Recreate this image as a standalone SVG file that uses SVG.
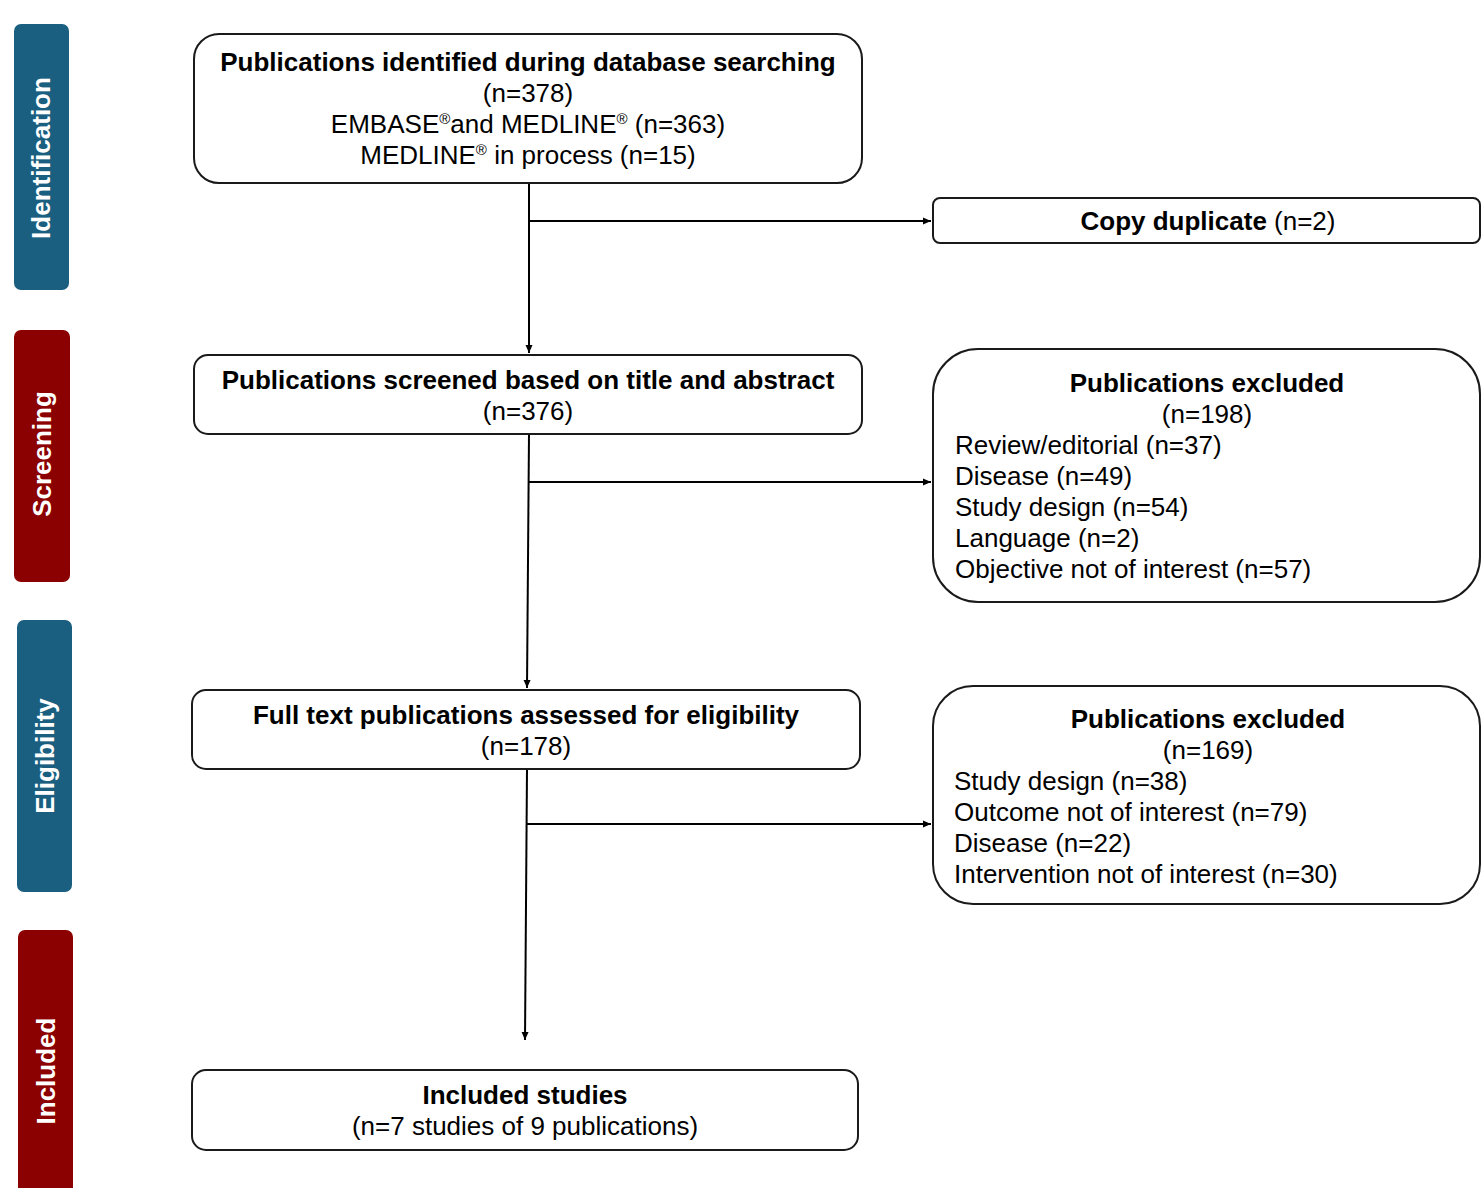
<svg xmlns="http://www.w3.org/2000/svg" width="1482" height="1188" viewBox="0 0 1482 1188">
<defs>
<style>
.box{fill:#fff;stroke:#1a1a1a;stroke-width:2}
.bar-b{fill:#1a5e80}
.bar-r{fill:#8b0000}
.lbl{font-family:"Liberation Sans",Arial,sans-serif;font-size:26px;font-weight:bold;fill:#fff;text-anchor:middle}
.t{font-family:"Liberation Sans",Arial,sans-serif;font-size:26px;fill:#000}
.b{font-weight:bold}
.c{text-anchor:middle}
.conn{fill:none;stroke:#000;stroke-width:2}
</style>
<marker id="arr" markerUnits="userSpaceOnUse" markerWidth="9" markerHeight="8" refX="8" refY="4" orient="auto">
<path d="M0,0.5 L8,4 L0,7.5 z" fill="#000"/>
</marker>
</defs>
<rect width="1482" height="1188" fill="#fff"/>

<g id="phase-identification">
<rect class="bar-b" x="14" y="24" width="55" height="266" rx="7"/>
<text class="lbl" transform="translate(50,158) rotate(-90)">Identification</text>
</g>
<g id="phase-screening">
<rect class="bar-r" x="14" y="330" width="56" height="252" rx="7"/>
<text class="lbl" transform="translate(51,454) rotate(-90)">Screening</text>
</g>
<g id="phase-eligibility">
<rect class="bar-b" x="17" y="620" width="55" height="272" rx="7"/>
<text class="lbl" transform="translate(54,756) rotate(-90)">Eligibility</text>
</g>
<g id="phase-included">
<rect class="bar-r" x="18" y="930" width="55" height="270" rx="7"/>
<text class="lbl" transform="translate(55,1071) rotate(-90)">Included</text>
</g>

<g id="connectors">
<path class="conn" d="M529,183 L529,353" marker-end="url(#arr)"/>
<path class="conn" d="M529,221 L931,221" marker-end="url(#arr)"/>
<path class="conn" d="M529,434 L527,688" marker-end="url(#arr)"/>
<path class="conn" d="M529,482 L931,482" marker-end="url(#arr)"/>
<path class="conn" d="M527,769 L525,1040" marker-end="url(#arr)"/>
<path class="conn" d="M527,824 L931,824" marker-end="url(#arr)"/>
</g>

<g id="node-identified">
<rect class="box" x="194" y="34" width="668" height="149" rx="25"/>
<text class="t b c" x="528" y="71">Publications identified during database searching</text>
<text class="t c" x="528" y="102">(n=378)</text>
<text class="t c" x="528" y="133">EMBASE<tspan font-size="15" dy="-9">®</tspan><tspan dy="9">and MEDLINE</tspan><tspan font-size="15" dy="-9">®</tspan><tspan dy="9"> (n=363)</tspan></text>
<text class="t c" x="528" y="164">MEDLINE<tspan font-size="15" dy="-9">®</tspan><tspan dy="9"> in process (n=15)</tspan></text>
</g>

<g id="node-duplicate">
<rect class="box" x="933" y="198" width="547" height="45" rx="7"/>
<text class="t c" x="1208" y="230"><tspan class="b">Copy duplicate</tspan> (n=2)</text>
</g>

<g id="node-screened">
<rect class="box" x="194" y="355" width="668" height="79" rx="14"/>
<text class="t b c" x="528" y="389">Publications screened based on title and abstract</text>
<text class="t c" x="528" y="420">(n=376)</text>
</g>

<g id="node-excluded-1">
<rect class="box" x="933" y="349" width="547" height="253" rx="45"/>
<text class="t b c" x="1207" y="392">Publications excluded</text>
<text class="t c" x="1207" y="423">(n=198)</text>
<text class="t" x="955" y="454">Review/editorial (n=37)</text>
<text class="t" x="955" y="485">Disease (n=49)</text>
<text class="t" x="955" y="516">Study design (n=54)</text>
<text class="t" x="955" y="547">Language (n=2)</text>
<text class="t" x="955" y="578">Objective not of interest (n=57)</text>
</g>

<g id="node-fulltext">
<rect class="box" x="192" y="690" width="668" height="79" rx="14"/>
<text class="t b c" x="526" y="724">Full text publications assessed for eligibility</text>
<text class="t c" x="526" y="755">(n=178)</text>
</g>

<g id="node-excluded-2">
<rect class="box" x="933" y="686" width="547" height="218" rx="40"/>
<text class="t b c" x="1208" y="728">Publications excluded</text>
<text class="t c" x="1208" y="759">(n=169)</text>
<text class="t" x="954" y="790">Study design (n=38)</text>
<text class="t" x="954" y="821">Outcome not of interest (n=79)</text>
<text class="t" x="954" y="852">Disease (n=22)</text>
<text class="t" x="954" y="883">Intervention not of interest (n=30)</text>
</g>

<g id="node-included">
<rect class="box" x="192" y="1070" width="666" height="80" rx="14"/>
<text class="t b c" x="525" y="1104">Included studies</text>
<text class="t c" x="525" y="1135">(n=7 studies of 9 publications)</text>
</g>
</svg>
